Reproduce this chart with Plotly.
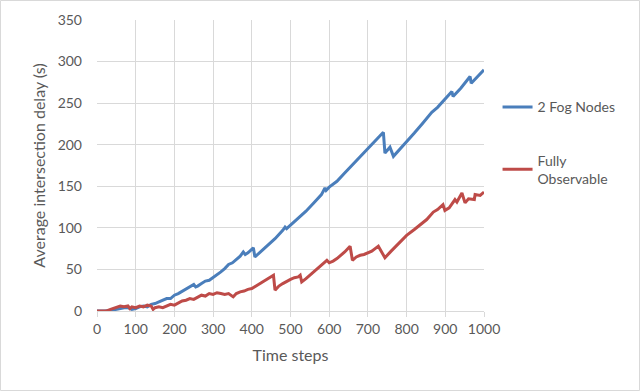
import plotly.graph_objects as go

# 2 Fog Nodes series (time step, average delay in s)
fog_x = [0, 20, 40, 60, 70, 80, 90, 100, 110, 120, 130, 140, 150, 160, 170, 180, 190, 200,
         210, 220, 230, 240, 250, 255, 260, 270, 280, 290, 300, 310, 320, 330, 340, 350, 360,
         370, 378, 383, 390, 404, 408, 420, 440, 460, 480, 486, 490, 500, 520, 540, 560, 580,
         589, 592, 600, 610, 620, 640, 660, 680, 700, 720, 740, 744, 757, 766, 780, 800, 820,
         840, 860, 865, 880, 900, 917, 920, 940, 964, 967, 1000]
fog_y = [0, 0, 1, 3, 4, 4, 2, 3, 5, 6, 5, 8, 9, 11, 13, 15, 15, 19,
         21, 24, 27, 29, 32, 29, 30, 33, 36, 37, 40, 43, 47, 51, 56, 58, 62,
         66, 71, 68, 70, 76, 65, 70, 78, 87, 97, 101, 99, 103, 111, 120, 130, 140,
         148, 145, 149, 152, 156, 166, 176, 186, 196, 206, 215, 190, 197, 186, 193, 204, 214,
         225, 236, 239, 245, 255, 264, 258, 268, 282, 274, 290]

# Fully Observable series
obs_x = [0, 25, 35, 50, 60, 70, 80, 85, 90, 100, 110, 120, 130, 140, 145, 150, 160, 170, 180,
         190, 200, 210, 220, 230, 240, 250, 260, 270, 280, 290, 300, 310, 320, 330, 340, 352,
         360, 370, 380, 390, 400, 410, 420, 430, 440, 456, 460, 470, 480, 490, 500, 510, 520,
         525, 529, 540, 550, 560, 570, 580, 594, 600, 610, 620, 630, 640, 654, 660, 670, 680,
         690, 700, 710, 727, 744, 760, 780, 800, 820, 840, 852, 869, 880, 894, 899, 910,
         925, 930, 943, 951, 960, 975, 977, 990, 1000]
obs_y = [0, 0, 2, 4, 6, 5, 6, 3, 5, 4, 6, 5, 7, 6, 2, 4, 5, 4, 6,
         8, 7, 10, 12, 13, 15, 14, 17, 19, 18, 21, 20, 22, 21, 20, 21, 17,
         21, 23, 24, 26, 27, 30, 33, 36, 38, 43, 25, 30, 33, 36, 38, 40, 41,
         43, 35, 39, 43, 47, 51, 55, 61, 58, 60, 63, 67, 71, 78, 61, 65, 67,
         68, 70, 72, 78, 64, 72, 81, 91, 98, 105, 110, 119, 122, 128, 121, 124,
         134, 131, 142, 130, 135, 134, 140, 139, 143]

txt = '#595959'
grid = '#d9d9d9'
font = 'Lato'

fig = go.Figure()
fig.add_trace(go.Scatter(x=fog_x, y=fog_y, mode='lines', name='2 Fog Nodes',
                         legendgroup='a', line=dict(color='#4a7ebb', width=3)))
fig.add_trace(go.Scatter(x=obs_x, y=obs_y, mode='lines', name='Fully<br>Observable',
                         legendgroup='b', line=dict(color='#be4b48', width=3)))

fig.update_layout(
    width=640, height=391,
    margin=dict(l=97, r=156, t=20, b=80, autoexpand=False),
    paper_bgcolor='white', plot_bgcolor='white',
    font=dict(family=font, size=14, color=txt),
    showlegend=True,
    legend=dict(x=1.035, y=0.755, xanchor='left', yanchor='top',
                tracegroupgap=32, font=dict(size=14, color=txt)),
    xaxis=dict(range=[0, 1000], dtick=100, showgrid=True, gridcolor=grid,
               showline=True, linecolor=grid, ticks='outside', ticklen=5,
               tickcolor=grid, zeroline=False, automargin=False,
               title=dict(text='Time steps', font=dict(size=16, color=txt), standoff=14)),
    yaxis=dict(range=[0, 350], dtick=50, showgrid=True, gridcolor=grid,
               zeroline=False, ticklabelstandoff=14, automargin=False,
               title=dict(text='Average intersection delay (s)',
                          font=dict(size=16, color=txt), standoff=8)),
)

# thin frame around the whole chart area
fig.add_shape(type='rect', xref='paper', yref='paper',
              x0=-96.5/387, x1=1 + 155.5/387, y0=-79.5/291, y1=1 + 19.5/291,
              line=dict(color=grid, width=1), fillcolor='rgba(0,0,0,0)')

# drop the page's default body margin so the figure sits at the window corner
fig.write_html("out.html", config={'displayModeBar': False},
               post_script="document.body.style.margin='0';")
